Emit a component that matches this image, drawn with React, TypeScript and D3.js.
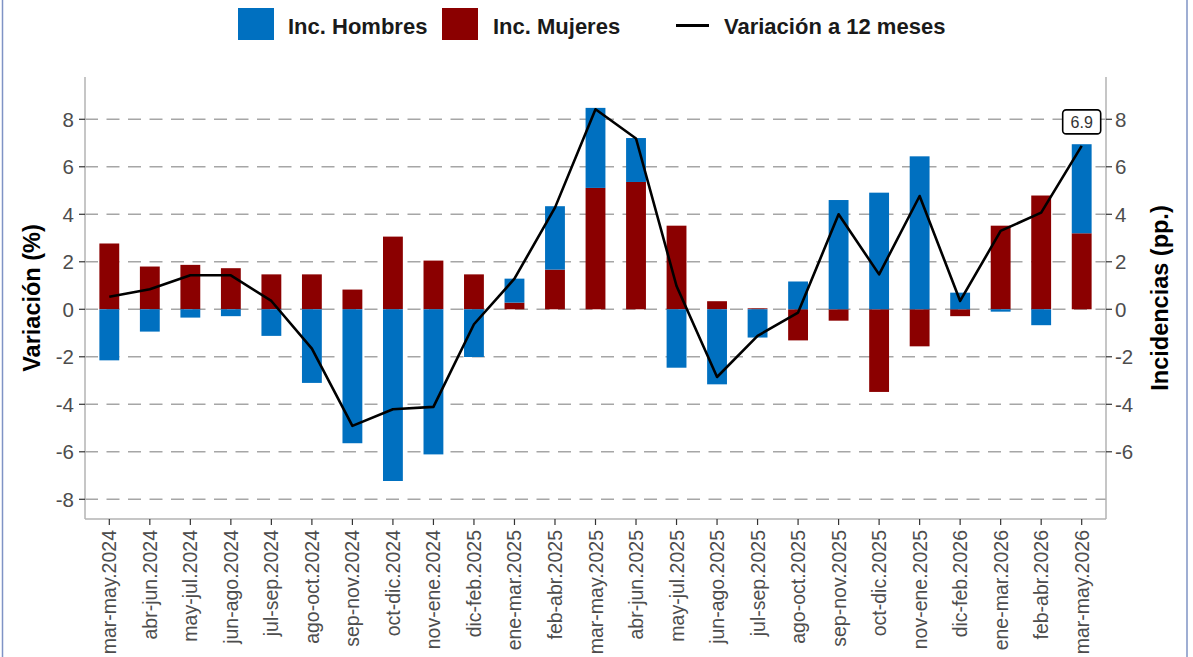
import React from "react";
import * as d3 from "d3";

const categories = [
  "mar-may.2024", "abr-jun.2024", "may-jul.2024", "jun-ago.2024", "jul-sep.2024",
  "ago-oct.2024", "sep-nov.2024", "oct-dic.2024", "nov-ene.2024", "dic-feb.2025",
  "ene-mar.2025", "feb-abr.2025", "mar-may.2025", "abr-jun.2025", "may-jul.2025",
  "jun-ago.2025", "jul-sep.2025", "ago-oct.2025", "sep-nov.2025", "oct-dic.2025",
  "nov-ene.2025", "dic-feb.2026", "ene-mar.2026", "feb-abr.2026", "mar-may.2026",
];
const hombres = [-2.15, -0.94, -0.35, -0.29, -1.12, -3.1, -5.64, -7.23, -6.11, -2.01, 1.01, 2.67, 3.37, 1.85, -2.46, -3.16, -1.19, 1.17, 4.6, 4.91, 6.44, 0.7, -0.1, -0.67, 3.75];
const mujeres = [2.77, 1.8, 1.87, 1.73, 1.47, 1.47, 0.83, 3.06, 2.05, 1.47, 0.28, 1.67, 5.11, 5.36, 3.52, 0.34, 0.04, -1.31, -0.48, -3.48, -1.56, -0.29, 3.52, 4.79, 3.2];
const variacion = [0.53, 0.84, 1.43, 1.43, 0.35, -1.66, -4.91, -4.21, -4.11, -0.63, 1.29, 4.28, 8.42, 7.19, 0.98, -2.85, -1.12, -0.14, 4.0, 1.47, 4.77, 0.35, 3.3, 4.07, 6.88];
const leftTicks = [-8, -6, -4, -2, 0, 2, 4, 6, 8];
const rightTicks = [-6, -4, -2, 0, 2, 4, 6, 8];
const seriesKeys = ["mujeres", "hombres"];
const seriesNames: Record<string, string> = { hombres: "Inc. Hombres", mujeres: "Inc. Mujeres" };
const lineName = "Variación a 12 meses";

const W = 1193, H = 657;
const PL = 85, PR = 1106, PT = 77, PB = 519;
const COLORS: Record<string, string> = { hombres: "#0070C0", mujeres: "#8B0000" };
const FONT = "'Liberation Sans', Arial, sans-serif";

export default function App() {
  const x = d3.scalePoint<string>().domain(categories).range([PL, PR]).padding(0.6);
  const step = x.step();
  const bw = step * 0.49;
  const y = d3.scaleLinear().domain([-8.83, 9.78]).range([PB, PT]);

  const rows = categories.map((c, i) => ({ cat: c, hombres: hombres[i], mujeres: mujeres[i] }));
  const stacked = d3.stack<any>().keys(seriesKeys).offset(d3.stackOffsetDiverging)(rows);

  const line = d3.line<number>().x((_, i) => x(categories[i])!).y((v) => y(v));
  const lastI = variacion.length - 1;
  const lx = x(categories[lastI])!;
  const ly = y(variacion[lastI]);

  return (
    <svg width={W} height={H} style={{ position: "absolute", left: 0, top: 0, background: "#fff" }} fontFamily={FONT}>
      <rect x={0} y={0} width={W} height={H} fill="#fff" />
      <line x1={2.5} x2={2.5} y1={0} y2={H} stroke="#7f93c5" strokeWidth={1.5} />
      <line x1={1187} x2={1187} y1={0} y2={H} stroke="#7f93c5" strokeWidth={1.5} />

      {/* legend */}
      <rect x={238} y={8} width={36} height={32} fill={COLORS.hombres} />
      <text x={288} y={34.3} fontSize={22} fontWeight="bold" fill="#1a1a1a">{seriesNames.hombres}</text>
      <rect x={442} y={8} width={36} height={32} fill={COLORS.mujeres} />
      <text x={493} y={34.3} fontSize={22} fontWeight="bold" fill="#1a1a1a">{seriesNames.mujeres}</text>
      <line x1={676} x2={709} y1={25.5} y2={25.5} stroke="#000" strokeWidth={3} />
      <text x={724} y={34.3} fontSize={22} fontWeight="bold" fill="#1a1a1a">{lineName}</text>

      {/* grid */}
      {leftTicks.map((t) => (
        <line key={"g" + t} x1={PL} x2={PR} y1={y(t)} y2={y(t)} stroke="#a6a6a6" strokeWidth={1.5} strokeDasharray="13,8.5" />
      ))}

      {/* bars */}
      {stacked.map((s) => (
        <g key={s.key} fill={COLORS[s.key]}>
          {s.map((d, i) => (
            <rect key={i} x={x(categories[i])! - bw / 2} width={bw} y={y(Math.max(d[0], d[1]))} height={Math.abs(y(d[0]) - y(d[1]))} />
          ))}
        </g>
      ))}

      {/* line */}
      <path d={line(variacion)!} fill="none" stroke="#000" strokeWidth={2.6} strokeLinejoin="round" />

      {/* label */}
      <rect x={lx - 19} y={ly - 36} width={38} height={24} rx={3.5} fill="#fff" stroke="#000" strokeWidth={1.6} />
      <text x={lx} y={ly - 23.5} fontSize={16} textAnchor="middle" dominantBaseline="central" fill="#333">{variacion[lastI].toFixed(1)}</text>

      {/* axes */}
      <line x1={PL} x2={PL} y1={PT} y2={PB} stroke="#b3b3b3" strokeWidth={1.5} />
      <line x1={PR} x2={PR} y1={PT} y2={PB} stroke="#b3b3b3" strokeWidth={1.5} />
      <line x1={PL} x2={PR} y1={PB} y2={PB} stroke="#b3b3b3" strokeWidth={1.5} />
      {leftTicks.map((t) => (
        <g key={"l" + t}>
          <line x1={PL - 6} x2={PL} y1={y(t)} y2={y(t)} stroke="#333" strokeWidth={1.2} />
          <text x={74} y={y(t)} fontSize={20.5} textAnchor="end" dominantBaseline="central" fill="#4d4d4d">{t}</text>
        </g>
      ))}
      {rightTicks.map((t) => (
        <g key={"r" + t}>
          <line x1={PR} x2={PR + 6} y1={y(t)} y2={y(t)} stroke="#333" strokeWidth={1.2} />
          <text x={1115} y={y(t)} fontSize={20.5} textAnchor="start" dominantBaseline="central" fill="#4d4d4d">{t}</text>
        </g>
      ))}
      {categories.map((c) => (
        <g key={c}>
          <line x1={x(c)!} x2={x(c)!} y1={PB} y2={PB + 6} stroke="#333" strokeWidth={1.2} />
          <text transform={`translate(${x(c)!},530) rotate(-90)`} fontSize={19.5} textAnchor="end" dominantBaseline="central" fill="#4d4d4d">{c}</text>
        </g>
      ))}

      <text transform={`translate(32,298) rotate(-90)`} fontSize={23.5} fontWeight="bold" textAnchor="middle" dominantBaseline="central" fill="#000">Variación (%)</text>
      <text transform={`translate(1160,298) rotate(-90)`} fontSize={23.5} fontWeight="bold" textAnchor="middle" dominantBaseline="central" fill="#000">Incidencias (pp.)</text>
    </svg>
  );
}
